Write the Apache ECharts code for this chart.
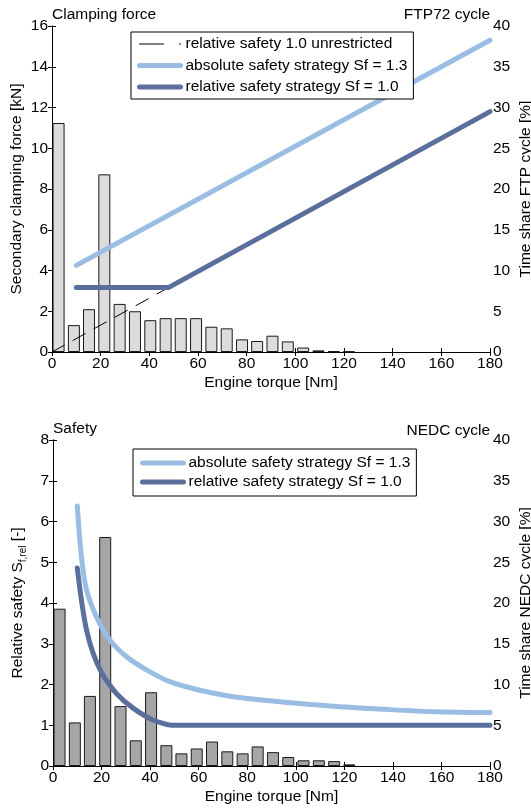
<!DOCTYPE html>
<html>
<head>
<meta charset="utf-8">
<script src="https://cdn.jsdelivr.net/npm/echarts@6/dist/echarts.min.js"></script>
<style>
  html, body { margin: 0; padding: 0; background: #fff; }
  #chart { width: 531px; height: 810px; }
</style>
</head>
<body>
<div id="chart"></div>
<script>
// bin centres of the time-share histograms [Nm]
const torqueBins = [2.7, 9.0, 15.2, 21.5, 27.8, 34.1, 40.4, 46.7, 52.9, 59.2, 65.5, 71.8, 78.1, 84.3, 90.6, 96.9, 103.2, 109.5, 115.8, 122.0];
// time share [%]
const shareFtp = [28.1, 3.3, 5.25, 21.8, 5.9, 5.0, 3.9, 4.15, 4.15, 4.15, 3.1, 2.9, 1.55, 1.35, 2.0, 1.3, 0.55, 0.2, 0.1, 0.05];
const shareNedc = [19.3, 5.35, 8.6, 28.1, 7.35, 3.15, 9.05, 2.55, 1.55, 2.15, 3.0, 1.8, 1.55, 2.4, 1.7, 1.1, 0.7, 0.7, 0.6, 0.2];

// clamping force [kN]
const unrestrictedT = [0, 48];
const unrestrictedF = [0, 3.17];
const absForceT = [10, 180];
const absForceF = [4.25, 15.3];
const relForceT = [10, 48, 180];
const relForceF = [3.17, 3.17, 11.8];

// relative safety [-]
const absSafetyT = [10, 11.7, 13.8, 17.9, 23.4, 30.3, 38.5, 48.1, 60.5, 74.2, 89.3, 116.8, 136.7, 158, 180];
const absSafety = [6.38, 5.14, 4.32, 3.66, 3.09, 2.68, 2.36, 2.07, 1.86, 1.70, 1.60, 1.46, 1.39, 1.33, 1.31];
const relSafetyT = [10, 11.7, 13.8, 16.5, 20.6, 26.1, 33, 41.2, 48.8, 180];
const relSafety = [4.86, 4.07, 3.34, 2.77, 2.23, 1.78, 1.42, 1.13, 1.0, 1.0];

const xTicks = [0, 180, 20];

const nameAbs = 'absolute safety strategy Sf = 1.3';
const nameRel = 'relative safety strategy Sf = 1.0';
const nameUnr = 'relative safety 1.0 unrestricted';

const FONT = 'Liberation Sans, Arial, sans-serif';
const FS = 15.5;
const lightBlue = '#99bde3';
const darkBlue = '#5a6f9b';

const pairs = (xs, ys) => xs.map((x, i) => [x, ys[i]]);

const chart = echarts.init(document.getElementById('chart'));

function xAxisPair(grid, nameText) {
  return [
    {
      type: 'value', gridIndex: grid, position: 'bottom',
      min: xTicks[0], max: xTicks[1], interval: xTicks[2],
      name: nameText, nameLocation: 'middle', nameGap: 23, nameMoveOverlap: false,
      nameTextStyle: { color: '#000', fontSize: FS, fontFamily: FONT },
      axisLine: { show: true, lineStyle: { color: '#000', width: 1 } },
      axisTick: { show: true, inside: true, length: 4, lineStyle: { color: '#000' } },
      axisLabel: { color: '#000', fontSize: FS, fontFamily: FONT, margin: 4 },
      splitLine: { show: false }
    },
    {
      type: 'value', gridIndex: grid, position: 'top',
      min: xTicks[0], max: xTicks[1], interval: xTicks[2],
      axisLine: { show: true, lineStyle: { color: '#000', width: 1 } },
      axisTick: { show: true, inside: true, length: 4, lineStyle: { color: '#000' } },
      axisLabel: { show: false },
      splitLine: { show: false }
    }
  ];
}

function yAxis(grid, pos, max, interval, nameText, gap) {
  return {
    type: 'value', gridIndex: grid, position: pos,
    min: 0, max: max, interval: interval,
    name: nameText, nameLocation: 'middle', nameGap: gap, nameMoveOverlap: false,
    nameRotate: 90,
    nameTextStyle: {
      color: '#000', fontSize: FS, fontFamily: FONT,
      rich: {
        sub: { fontSize: 10, fontFamily: FONT, color: '#000', padding: [10, 0, 0, 0] }
      }
    },
    axisLine: { show: true, lineStyle: { color: '#000', width: 1 } },
    axisTick: { show: true, inside: true, length: 4, lineStyle: { color: '#000' } },
    axisLabel: { color: '#000', fontSize: FS, fontFamily: FONT, margin: pos === 'left' ? 4 : 3 },
    splitLine: { show: false }
  };
}

const barStyle = (fill) => ({ color: fill, borderColor: '#1a1a1a', borderWidth: 1 });
const lineSeries = (name, xIdx, yIdx, data, color, width, type) => ({
  name: name, type: 'line', xAxisIndex: xIdx, yAxisIndex: yIdx,
  data: data, symbol: 'none', silent: true,
  lineStyle: { color: color, width: width, type: type || 'solid', cap: 'round', join: 'round' },
  itemStyle: { color: color }
});

const legendBase = {
  orient: 'vertical',
  borderColor: '#000', borderWidth: 1, backgroundColor: '#fff',
  itemWidth: 41, itemHeight: 16,
  itemStyle: { opacity: 0 },
  textStyle: { color: '#000', fontSize: FS, fontFamily: FONT },
  selectedMode: false
};
const legendItem = (name, color, width, type) => ({
  name: name,
  itemStyle: { opacity: 0 },
  lineStyle: { color: color, width: width, type: type || 'solid', cap: 'round' }
});

const titleStyle = { fontSize: FS, fontWeight: 'normal', color: '#000', fontFamily: FONT };

chart.setOption({
  animation: false,
  title: [
    { text: 'Clamping force', left: 52, top: 7, padding: 0, textStyle: titleStyle },
    { text: 'FTP72 cycle', right: 41, top: 7, padding: 0, textStyle: titleStyle },
    { text: 'Safety', left: 53, top: 421, padding: 0, textStyle: titleStyle },
    { text: 'NEDC cycle', right: 41, top: 423, padding: 0, textStyle: titleStyle }
  ],
  legend: [
    Object.assign({}, legendBase, {
      left: 131, top: 32, padding: [4, 6, 4, 6], itemGap: 5.5,
      data: [
        legendItem(nameUnr, '#000', 1, [24, 16]),
        legendItem(nameAbs, lightBlue, 5),
        legendItem(nameRel, darkBlue, 5)
      ]
    }),
    Object.assign({}, legendBase, {
      left: 133, top: 449, padding: [6, 6, 6, 7], itemGap: 3,
      data: [
        legendItem(nameAbs, lightBlue, 5),
        legendItem(nameRel, darkBlue, 5)
      ]
    })
  ],
  grid: [
    { left: 52, top: 26, width: 438, height: 326, outerBoundsMode: 'none', containLabel: false },
    { left: 53, top: 440, width: 437, height: 326, outerBoundsMode: 'none', containLabel: false }
  ],
  xAxis: [].concat(xAxisPair(0, 'Engine torque [Nm]'), xAxisPair(1, 'Engine torque [Nm]')),
  yAxis: [
    yAxis(0, 'left', 16, 2, 'Secondary clamping force [kN]', 27),
    yAxis(0, 'right', 40, 5, 'Time share FTP cycle [%]', 28),
    yAxis(1, 'left', 8, 1, 'Relative safety S{sub|f,rel} [-]', 25),
    yAxis(1, 'right', 40, 5, 'Time share NEDC cycle [%]', 28)
  ],
  series: [
    { type: 'bar', xAxisIndex: 0, yAxisIndex: 1, barWidth: 12, silent: true,
      data: pairs(torqueBins, shareFtp), itemStyle: barStyle('#dcdcdc') },
    lineSeries(nameUnr, 0, 0, pairs(unrestrictedT, unrestrictedF), '#000', 1, [14, 10]),
    lineSeries(nameAbs, 0, 0, pairs(absForceT, absForceF), lightBlue, 5),
    lineSeries(nameRel, 0, 0, pairs(relForceT, relForceF), darkBlue, 5),

    { type: 'bar', xAxisIndex: 2, yAxisIndex: 3, barWidth: 12, silent: true,
      data: pairs(torqueBins, shareNedc), itemStyle: barStyle('#a6a6a6') },
    Object.assign(lineSeries(nameAbs, 2, 2, pairs(absSafetyT, absSafety), lightBlue, 5), { smooth: 0.3 }),
    Object.assign(lineSeries(nameRel, 2, 2, pairs(relSafetyT, relSafety), darkBlue, 5), { smooth: 0.2 })
  ]
});

window.addEventListener('resize', () => chart.resize());
</script>
</body>
</html>
